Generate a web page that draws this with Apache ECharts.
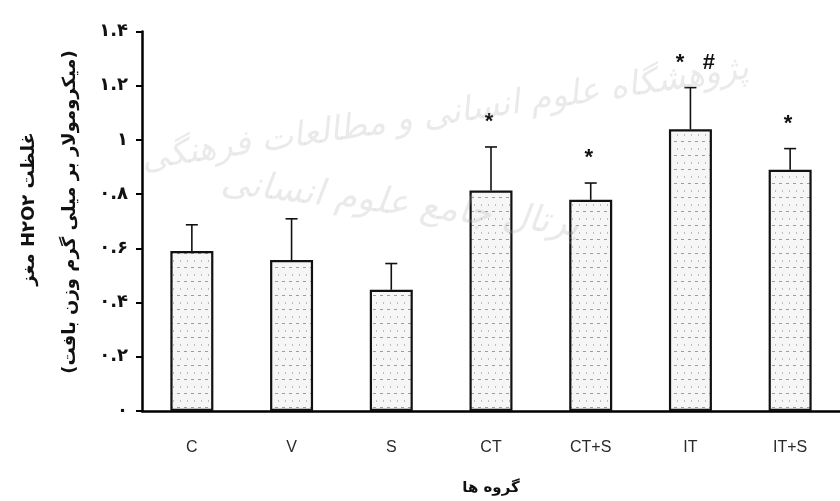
<!DOCTYPE html>
<html>
<head>
<meta charset="utf-8">
<script src="https://cdn.jsdelivr.net/npm/echarts@6/dist/echarts.min.js"></script>
<style>
  html, body { margin: 0; padding: 0; background: #fff; }
  #chart { width: 840px; height: 501px; }
</style>
</head>
<body>
<div id="chart"></div>
<script>
// Groups and measured brain H2O2 concentration (mean and SEM)
const groups = ['C', 'V', 'S', 'CT', 'CT+S', 'IT', 'IT+S'];
const means = [0.59, 0.557, 0.447, 0.813, 0.779, 1.039, 0.89];
const errors = [0.097, 0.152, 0.097, 0.161, 0.062, 0.154, 0.078];
const significance = ['', '', '', '*', '*', '* #', '*'];
const yTickLabels = ['۰', '۰.۲', '۰.۴', '۰.۶', '۰.۸', '۱', '۱.۲', '۱.۴'];
const yTitle = 'غلظت H۲O۲ مغز';
const yUnit = '(میکرومولار بر میلی گرم وزن بافت)';
const xTitle = 'گروه ها';

// Wrap Persian strings in a right-to-left embedding so mixed runs order correctly
const rtl = s => '\u202B' + s + '\u202C';

// Dotted fill used inside the bars
function makeDotPattern() {
  const c = document.createElement('canvas');
  c.width = 14; c.height = 14;
  const g = c.getContext('2d');
  g.fillStyle = '#f6f6f6';
  g.fillRect(0, 0, 14, 14);
  g.fillStyle = 'rgba(120,120,120,0.7)';
  g.fillRect(2, 1, 3, 1);
  g.fillRect(9, 1, 3, 1);
  g.fillStyle = 'rgba(140,140,140,0.55)';
  g.fillRect(5, 8, 1, 2);
  g.fillRect(12, 8, 1, 2);
  return c;
}

const chart = echarts.init(document.getElementById('chart'), null, { renderer: 'canvas' });

const errorData = groups.map((g, i) => [i, means[i], means[i] + errors[i]]);

const option = {
  backgroundColor: '#ffffff',
  animation: false,
  grid: { left: 142, right: -6, top: 31.5, bottom: 86 },
  xAxis: {
    type: 'category',
    data: groups,
    name: rtl(xTitle),
    nameLocation: 'middle',
    nameGap: 70,
    nameTextStyle: { fontFamily: 'DejaVu Sans', fontWeight: 'bold', fontSize: 15, color: '#111' },
    axisLine: { lineStyle: { color: '#000', width: 2.5 } },
    axisTick: { length: 6, lineStyle: { color: '#000', width: 2 } },
    axisLabel: { margin: 29, fontFamily: 'Liberation Sans', fontSize: 16, color: '#2a2a2a' }
  },
  yAxis: {
    type: 'value',
    min: 0, max: 1.4, interval: 0.2,
    splitLine: { show: false },
    axisLine: { show: true, lineStyle: { color: '#000', width: 2.5 } },
    axisTick: { show: true, length: 6, lineStyle: { color: '#000', width: 2 } },
    axisLabel: {
      margin: 14,
      fontFamily: 'DejaVu Sans', fontWeight: 'bold', fontSize: 18, color: '#111',
      formatter: v => yTickLabels[Math.round(v / 0.2)]
    }
  },
  graphic: [
    {
      type: 'text', rotation: Math.PI / 2,
      x: 29, y: 209,
      style: {
        text: rtl(yTitle), fill: '#111',
        font: 'bold 18px "DejaVu Sans"', align: 'center', verticalAlign: 'middle'
      }
    },
    {
      type: 'text', rotation: Math.PI / 2,
      x: 70, y: 212,
      style: {
        text: rtl(yUnit), fill: '#111',
        font: 'bold 18px "DejaVu Sans"', align: 'center', verticalAlign: 'middle'
      }
    },
    {
      type: 'text', x: 445, y: 115, rotation: 0.15, z: 100,
      style: {
        text: rtl('پژوهشگاه علوم انسانی و مطالعات فرهنگی'), fill: 'rgba(170,170,170,0.25)',
        font: 'italic 34px "DejaVu Sans"', align: 'center', verticalAlign: 'middle'
      }
    },
    {
      type: 'text', x: 400, y: 205, rotation: -0.12, z: 100,
      style: {
        text: rtl('پرتال جامع علوم انسانی'), fill: 'rgba(170,170,170,0.25)',
        font: 'italic 36px "DejaVu Sans"', align: 'center', verticalAlign: 'middle'
      }
    }
  ],
  series: [
    {
      type: 'bar',
      data: means,
      barWidth: 43,
      itemStyle: {
        color: { image: makeDotPattern(), repeat: 'repeat' },
        borderColor: '#111',
        borderWidth: 2.2
      }
    },
    {
      type: 'custom',
      data: errorData,
      z: 3,
      renderItem: function (params, api) {
        const i = params.dataIndex;
        const base = api.coord([api.value(0), api.value(1)]);
        const top = api.coord([api.value(0), api.value(2)]);
        const capHalf = 6;
        const children = [
          { type: 'line', shape: { x1: base[0], y1: base[1], x2: top[0], y2: top[1] },
            style: { stroke: '#111', lineWidth: 1.6 } },
          { type: 'line', shape: { x1: top[0] - capHalf, y1: top[1], x2: top[0] + capHalf, y2: top[1] },
            style: { stroke: '#111', lineWidth: 1.6 } }
        ];
        const mark = significance[i];
        if (mark) {
          const multi = mark.indexOf(' ') >= 0;
          children.push({
            type: 'text',
            style: {
              x: top[0] + (multi ? 5 : -2), y: top[1] - 25,
              text: multi ? mark.replace(' ', '   ') : mark, fill: '#111',
              font: 'bold 22px "Liberation Sans"', align: 'center', verticalAlign: 'middle'
            }
          });
        }
        return { type: 'group', children: children };
      }
    }
  ]
};

chart.setOption(option);
</script>
</body>
</html>
